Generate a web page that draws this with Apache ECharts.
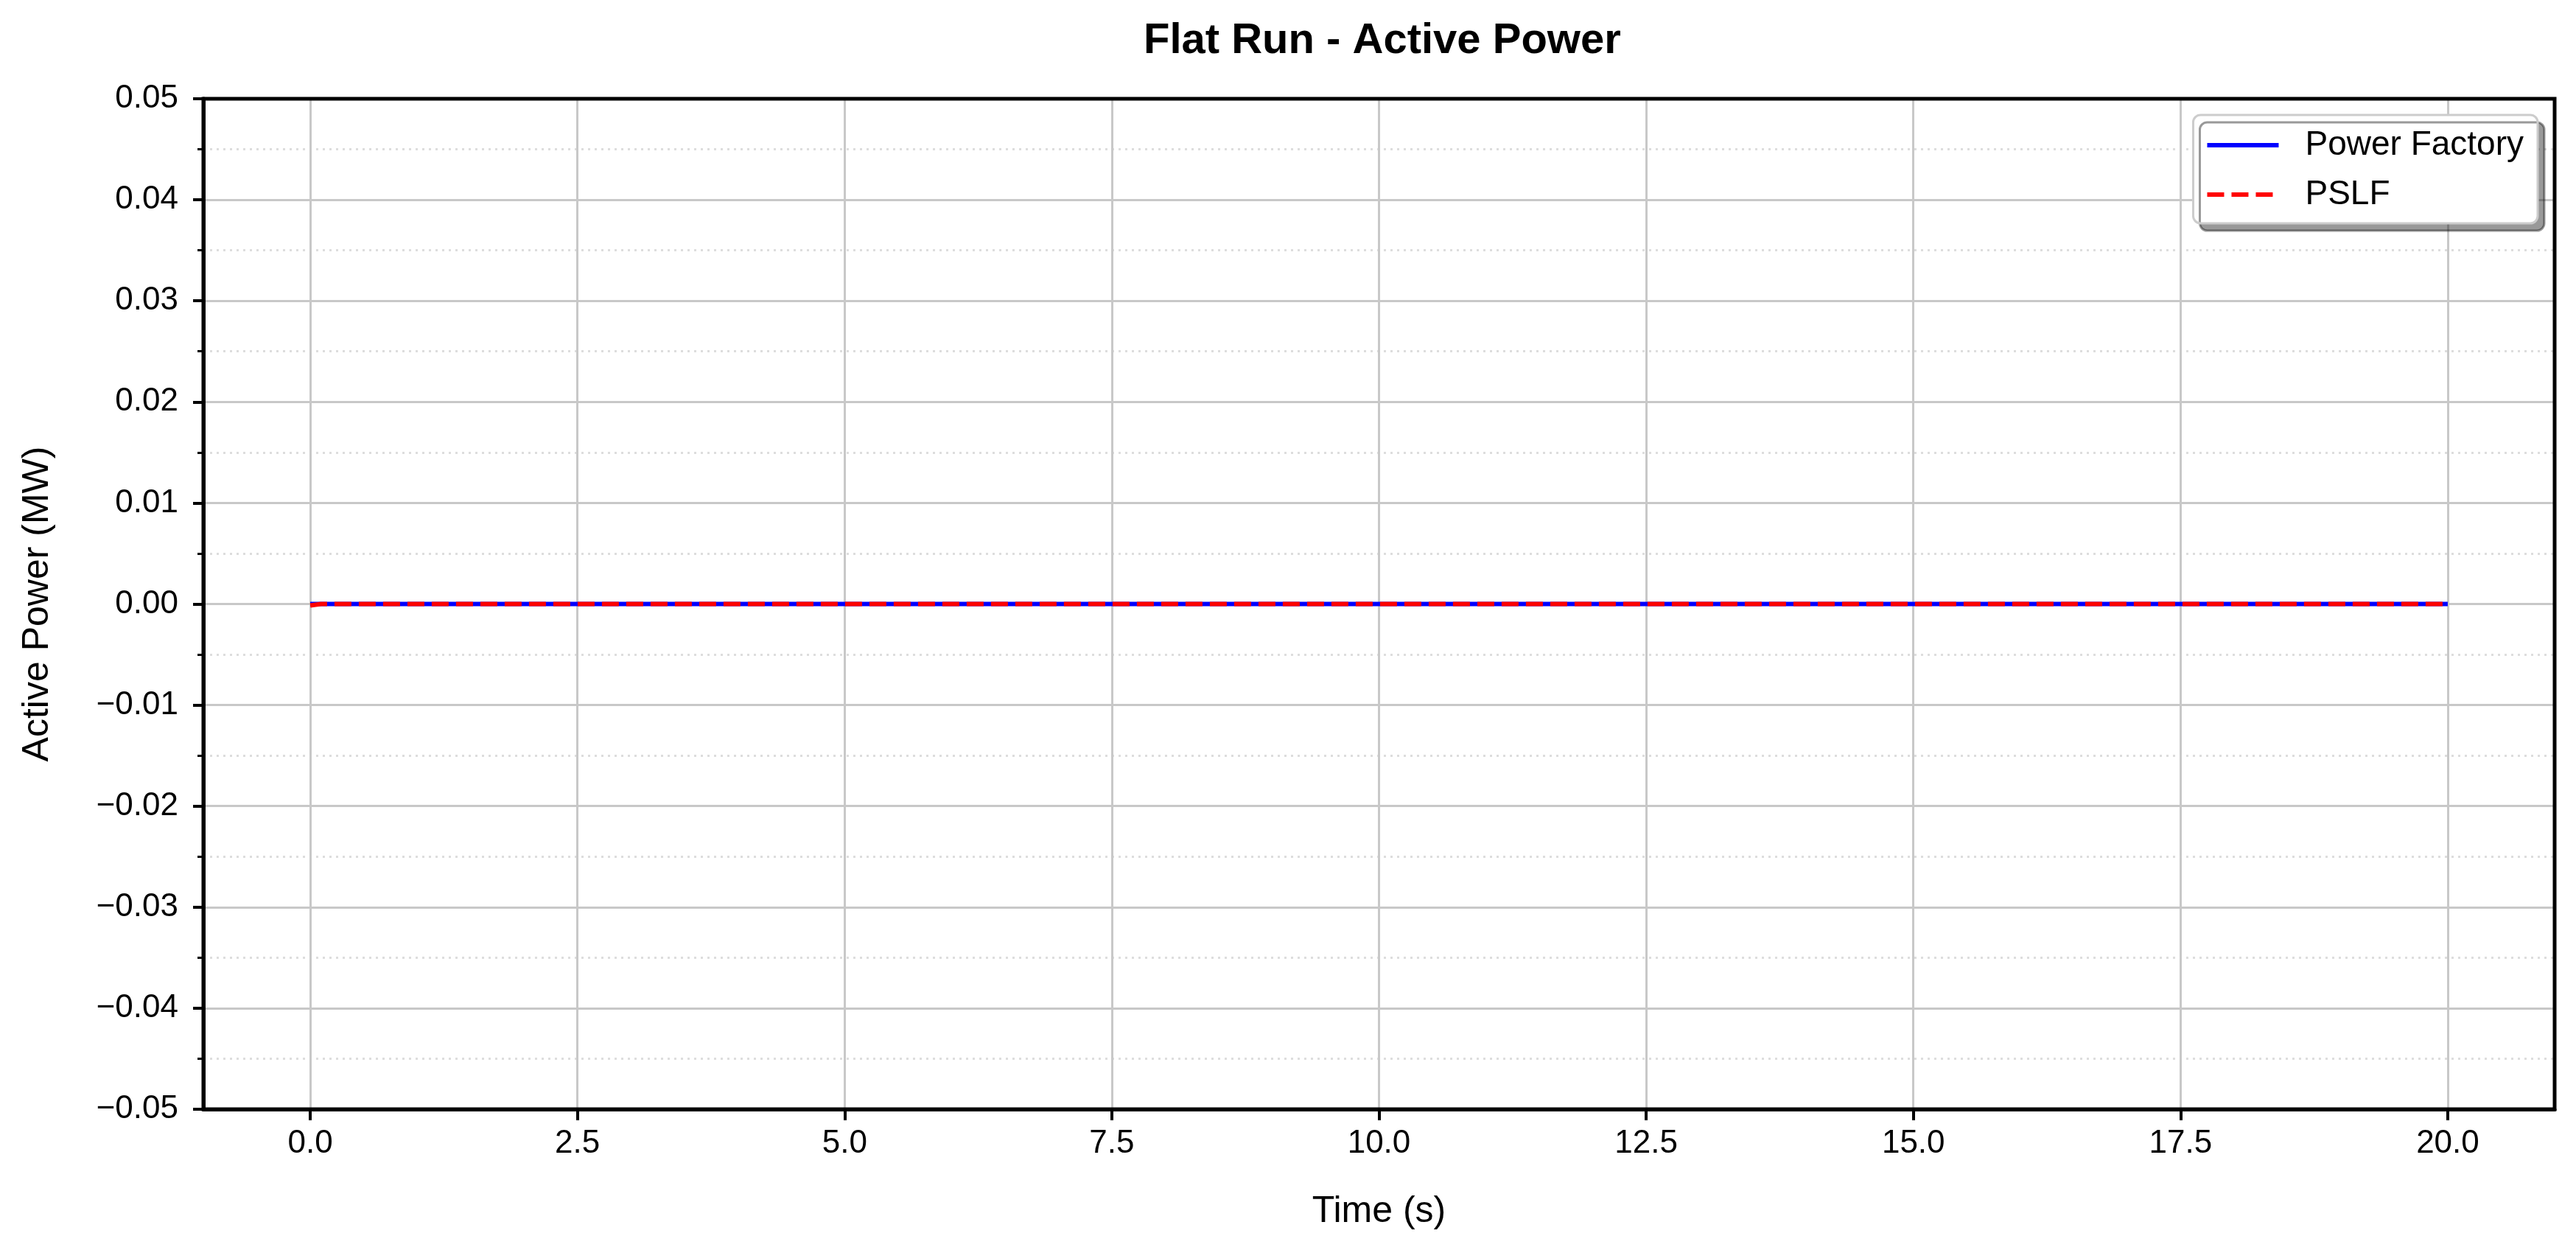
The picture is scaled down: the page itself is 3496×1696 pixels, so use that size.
<!DOCTYPE html>
<html>
<head>
<meta charset="utf-8">
<script src="https://cdn.jsdelivr.net/npm/echarts@6/dist/echarts.min.js"></script>
<style>
html,body{margin:0;padding:0;background:#fff;}
#chart{width:3496px;height:1696px;}
</style>
</head>
<body>
<div id="chart"></div>
<script>
// ---- data ----
const timeS = [0, 0.1, 0.2, 0.5, 1, 2, 3, 4, 5, 6, 7, 8, 9, 10, 11, 12, 13, 14, 15, 16, 17, 18, 19, 20];
const powerFactoryMW = [0, 0, 0, 0, 0, 0, 0, 0, 0, 0, 0, 0, 0, 0, 0, 0, 0, 0, 0, 0, 0, 0, 0, 0];
const pslfMW = [-0.00015, 0, 0, 0, 0, 0, 0, 0, 0, 0, 0, 0, 0, 0, 0, 0, 0, 0, 0, 0, 0, 0, 0, 0];
const xTickValues = [0, 2.5, 5, 7.5, 10, 12.5, 15, 17.5, 20];
const seriesNames = ['Power Factory', 'PSLF'];
const titleText = 'Flat Run - Active Power';
const xAxisTitle = 'Time (s)';
const yAxisTitle = 'Active Power (MW)';

const FONT = '"Liberation Sans", Arial, Helvetica, sans-serif';
const chart = echarts.init(document.getElementById('chart'), null, {renderer: 'canvas'});

function pairs(xs, ys) { return xs.map((x, i) => [x, ys[i]]); }

const option = {
  backgroundColor: '#ffffff',
  animation: false,
  textStyle: {fontFamily: FONT},
  title: {
    text: titleText,
    left: 1547,
    top: 22,
    textStyle: {fontFamily: FONT, fontSize: 58, fontWeight: 'bold', color: '#000'}
  },
  grid: {
    left: 276, right: 29, top: 134, bottom: 191,
    show: true, borderColor: '#000', borderWidth: 5, backgroundColor: 'transparent', z: 5
  },
  legend: {
    orient: 'vertical',
    right: 52, top: 156,
    backgroundColor: '#ffffff',
    borderColor: '#cccccc', borderWidth: 3, borderRadius: 10,
    padding: [18, 19, 16, 16],
    itemWidth: 97, itemHeight: 20, itemGap: 21,
    shadowColor: 'rgba(0,0,0,0.4)', shadowBlur: 0, shadowOffsetX: 9, shadowOffsetY: 10,
    itemStyle: {opacity: 0},
    lineStyle: {width: 6},
    textStyle: {fontFamily: FONT, fontSize: 46, color: '#000', lineHeight: 46, padding: [0, 0, 0, 31]},
    data: seriesNames
  },
  xAxis: {
    type: 'value', min: -1, max: 21,
    name: xAxisTitle, nameLocation: 'middle', nameGap: 114,
    nameTextStyle: {fontFamily: FONT, fontSize: 50, color: '#000'},
    axisLine: {show: true, onZero: false, lineStyle: {color: '#000', width: 5}},
    axisTick: {show: true, length: 15, customValues: xTickValues, lineStyle: {color: '#000', width: 4}},
    axisLabel: {show: true, customValues: xTickValues, margin: 25, fontFamily: FONT, fontSize: 44, color: '#000',
      formatter: v => v.toFixed(1)},
    splitLine: {show: true, lineStyle: {color: '#c8c8c8', width: 3}},
    minorTick: {show: false},
    minorSplitLine: {show: false}
  },
  yAxis: {
    type: 'value', min: -0.05, max: 0.05, interval: 0.01,
    name: yAxisTitle, nameLocation: 'middle', nameGap: 200, nameRotate: 90,
    nameTextStyle: {fontFamily: FONT, fontSize: 50, color: '#000'},
    axisLine: {show: true, onZero: false, lineStyle: {color: '#000', width: 5}},
    axisTick: {show: true, length: 14, lineStyle: {color: '#000', width: 4}},
    axisLabel: {show: true, margin: 34, fontFamily: FONT, fontSize: 44, color: '#000',
      formatter: v => { const s = Math.abs(v) < 1e-9 ? '0.00' : v.toFixed(2); return s.replace('-', '\u2212'); }},
    splitLine: {show: true, lineStyle: {color: '#c8c8c8', width: 3}},
    minorTick: {show: true, splitNumber: 2, length: 8, lineStyle: {color: '#000', width: 3}},
    minorSplitLine: {show: true, lineStyle: {color: '#dddddd', width: 3, type: [3, 6]}}
  },
  series: [
    {
      name: seriesNames[0], type: 'line', data: pairs(timeS, powerFactoryMW),
      showSymbol: false, symbol: 'none', z: 2,
      lineStyle: {color: '#0000ff', width: 6},
      itemStyle: {color: '#0000ff'}
    },
    {
      name: seriesNames[1], type: 'line', data: pairs(timeS, pslfMW),
      showSymbol: false, symbol: 'none', z: 3,
      lineStyle: {color: '#ff0000', width: 6, type: [23, 10]},
      itemStyle: {color: '#ff0000'}
    }
  ]
};
chart.setOption(option);
</script>
</body>
</html>
